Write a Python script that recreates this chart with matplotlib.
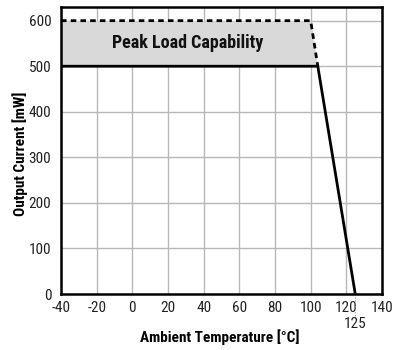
import matplotlib
matplotlib.use("Agg")
import matplotlib.pyplot as plt
from matplotlib import font_manager

# derating curve
temp_rated = [-40, 104, 125]
load_rated = [500, 500, 0]
# peak capability outline
temp_peak = [-40, 100, 104]
load_peak = [600, 600, 500]
x_ticks = [-40, -20, 0, 20, 40, 60, 80, 100, 120, 140]
y_ticks = [0, 100, 200, 300, 400, 500, 600]
t_max = 125

names = {f.name for f in font_manager.fontManager.ttflist}
wanted = ["Roboto Condensed", "Archivo Narrow", "PT Sans Narrow", "Fira Sans Condensed",
          "IBM Plex Sans Condensed", "Barlow Semi Condensed", "Liberation Sans Narrow"]
family = next((n for n in wanted if n in names), "DejaVu Sans")
plt.rcParams['font.family'] = [family, "DejaVu Sans"]
plt.rcParams['axes.unicode_minus'] = False

fig = plt.figure(figsize=(4, 3.5), dpi=100)
ax = fig.add_axes([0.1525, 0.16, 0.8025, 0.82])

ax.fill_between(temp_peak, load_peak, [500] * len(temp_peak), color='#d9d9d9', lw=0, zorder=1)
ax.plot(temp_peak, load_peak, color='black', lw=2, ls=(0, (2, 1.5)), zorder=3)
ax.plot(temp_rated, load_rated, color='black', lw=2, zorder=4)

ax.text(31, 550, "Peak Load Capability", ha='center', va='center',
        fontsize=13, fontweight='bold', color='#111111', zorder=5)

ax.set_xlim(-40, 140)
ax.set_ylim(0, 630)
ax.set_xticks(x_ticks)
ax.set_yticks(y_ticks)
ax.grid(color='#b8b8b8', lw=1, zorder=0)
ax.set_axisbelow(True)
ax.tick_params(length=0, labelsize=11, labelcolor='#222222')
ax.tick_params(axis='x', pad=5)
ax.tick_params(axis='y', pad=7)
for s in ax.spines.values():
    s.set_linewidth(1.8)

# mark the zero-load temperature under the axis
ax.plot([t_max, t_max], [0, -52], color='#999999', lw=0.8, ls=':', clip_on=False)
ax.text(t_max, -50, str(t_max), ha='center', va='top', fontsize=11, color='#222222')

ax.set_xlabel("Ambient Temperature [°C]", fontsize=11, fontweight='bold')
ax.set_ylabel("Output Current [mW]", fontsize=11, fontweight='bold')
ax.xaxis.set_label_coords(0.495, -0.15)
ax.yaxis.set_label_coords(-0.128, 0.49)
ax.xaxis.label.set_va('center')
ax.yaxis.label.set_va('center')

fig.savefig("out.png", dpi=100)
